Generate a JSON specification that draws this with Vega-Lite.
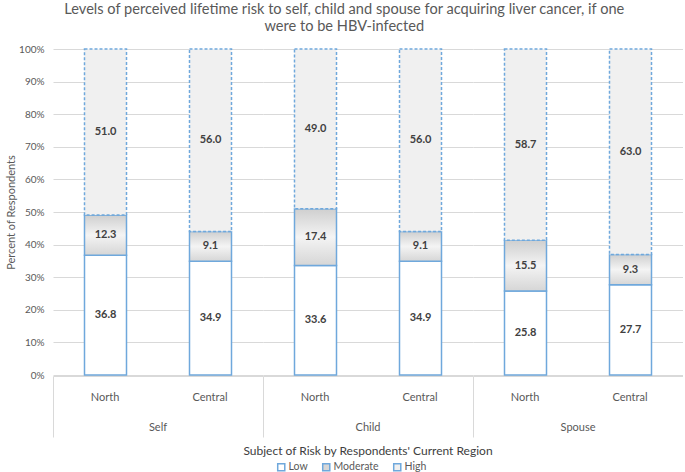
{
  "$schema": "https://vega.github.io/schema/vega-lite/v6.json",
  "padding": {"left": 5, "right": 0, "top": 2, "bottom": 0},
  "background": "white",
  "title": {
    "text": ["Levels of perceived lifetime risk to self, child and spouse for acquiring liver cancer, if one", "were to be HBV-infected"],
    "anchor": "middle",
    "frame": "bounds",
    "font": "Lato",
    "fontSize": 14.6,
    "fontWeight": "normal",
    "color": "#595959",
    "lineHeight": 17,
    "offset": 10
  },
  "config": {
    "font": "Lato",
    "view": {"stroke": null},
    "axis": {"labelFont": "Lato", "titleFont": "Lato"}
  },
  "data": {
    "values": [
      {"subject": "Self", "region": "North", "level": "Low", "value": 36.8, "ord": 1},
      {"subject": "Self", "region": "North", "level": "Moderate", "value": 12.3, "ord": 2},
      {"subject": "Self", "region": "North", "level": "High", "value": 51.0, "ord": 3},
      {"subject": "Self", "region": "Central", "level": "Low", "value": 34.9, "ord": 1},
      {"subject": "Self", "region": "Central", "level": "Moderate", "value": 9.1, "ord": 2},
      {"subject": "Self", "region": "Central", "level": "High", "value": 56.0, "ord": 3},
      {"subject": "Child", "region": "North", "level": "Low", "value": 33.6, "ord": 1},
      {"subject": "Child", "region": "North", "level": "Moderate", "value": 17.4, "ord": 2},
      {"subject": "Child", "region": "North", "level": "High", "value": 49.0, "ord": 3},
      {"subject": "Child", "region": "Central", "level": "Low", "value": 34.9, "ord": 1},
      {"subject": "Child", "region": "Central", "level": "Moderate", "value": 9.1, "ord": 2},
      {"subject": "Child", "region": "Central", "level": "High", "value": 56.0, "ord": 3},
      {"subject": "Spouse", "region": "North", "level": "Low", "value": 25.8, "ord": 1},
      {"subject": "Spouse", "region": "North", "level": "Moderate", "value": 15.5, "ord": 2},
      {"subject": "Spouse", "region": "North", "level": "High", "value": 58.7, "ord": 3},
      {"subject": "Spouse", "region": "Central", "level": "Low", "value": 27.7, "ord": 1},
      {"subject": "Spouse", "region": "Central", "level": "Moderate", "value": 9.3, "ord": 2},
      {"subject": "Spouse", "region": "Central", "level": "High", "value": 63.0, "ord": 3}
    ]
  },
  "transform": [
    {"stack": "value", "groupby": ["subject", "region"], "sort": [{"field": "ord", "order": "ascending"}], "offset": "normalize", "as": ["y0", "y1"]},
    {"calculate": "(datum.y0 + datum.y1) / 2", "as": "mid"}
  ],
  "spacing": 0,
  "facet": {
    "column": {
      "field": "subject",
      "sort": ["Self", "Child", "Spouse"],
      "header": {
        "labelOrient": "bottom",
        "titleOrient": "bottom",
        "title": "Subject of Risk by Respondents' Current Region",
        "titleFont": "Lato",
        "titleFontSize": 12,
        "titleFontWeight": "normal",
        "titleColor": "#404040",
        "titlePadding": -2,
        "labelFont": "Lato",
        "labelFontSize": 11,
        "labelColor": "#595959",
        "labelPadding": -16
      }
    }
  },
  "spec": {
    "width": 210,
    "height": 326,
    "encoding": {
      "x": {
        "field": "region",
        "type": "nominal",
        "sort": ["North", "Central"],
        "scale": {"paddingInner": 0.6, "paddingOuter": 0.3},
        "axis": {
          "title": null,
          "labelAngle": 0,
          "labelAlign": "center",
          "labelOffset": 30.5,
          "labelFontSize": 11,
          "labelColor": "#595959",
          "labelPadding": -46,
          "domainColor": "#d9d9d9",
          "bandPosition": 0,
          "tickOffset": -31.5,
          "tickSize": 61,
          "tickColor": {"condition": {"test": "datum.value === 'Central'", "value": "transparent"}, "value": "#d9d9d9"}
        }
      },
      "y": {
        "field": "y0", "type": "quantitative",
        "scale": {"domain": [0, 1]},
        "axis": {
          "title": "Percent of Respondents",
          "titleFontSize": 11,
          "titleFontWeight": "normal",
          "titleColor": "#595959",
          "titlePadding": 2,
          "format": ".0%",
          "values": [0, 0.1, 0.2, 0.3, 0.4, 0.5, 0.6, 0.7, 0.8, 0.9, 1],
          "labelOverlap": false,
          "labelFontSize": 10,
          "labelColor": "#595959",
          "labelPadding": 9,
          "domain": false,
          "ticks": false,
          "gridColor": "#d9d9d9"
        }
      }
    },
    "layer": [
      {
        "transform": [{"filter": "datum.level === 'Low'"}],
        "mark": {"type": "bar", "stroke": "#6fa8dc", "strokeWidth": 1.5},
        "encoding": {
          "y2": {"field": "y1"},
          "fill": {
            "field": "level", "type": "nominal",
            "scale": {"domain": ["Low", "Moderate", "High"], "range": ["#ffffff", "#d6d6d6", "#f0f0f0"]},
            "legend": {
              "title": null, "orient": "none", "direction": "horizontal",
              "legendX": 223, "legendY": 413,
              "gridAlign": "none",
              "symbolType": "square", "symbolSize": 50, "symbolStrokeColor": "#6fa8dc", "symbolStrokeWidth": 1.5,
              "labelFontSize": 10.5, "labelColor": "#595959", "labelOffset": 2, "columnPadding": 11
            }
          }
        }
      },
      {
        "transform": [{"filter": "datum.level === 'Moderate'"}],
        "mark": {
          "type": "bar", "stroke": "#6fa8dc", "strokeWidth": 1.5,
          "fill": {"gradient": "linear", "x1": 0, "y1": 0, "x2": 0, "y2": 1,
            "stops": [{"offset": 0, "color": "#cfcfcf"}, {"offset": 0.5, "color": "#f4f4f4"}, {"offset": 1, "color": "#d6d6d6"}]}
        },
        "encoding": {
          "y2": {"field": "y1"}
        }
      },
      {
        "transform": [{"filter": "datum.level === 'High'"}],
        "mark": {"type": "bar", "stroke": "#6fa8dc", "strokeWidth": 1.5, "strokeDash": [3, 2]},
        "encoding": {
          "y2": {"field": "y1"},
          "fill": {"field": "level", "type": "nominal"}
        }
      },
      {
        "mark": {"type": "text", "fontWeight": "bold", "fontSize": 11, "color": "#404040", "font": "Lato"},
        "encoding": {
          "y": {"field": "mid", "type": "quantitative"},
          "text": {"field": "value", "type": "quantitative", "format": ".1f"}
        }
      }
    ]
  }
}
